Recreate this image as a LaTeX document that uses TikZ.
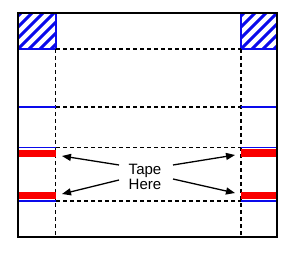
\documentclass[tikz,border=0pt]{standalone}
\usepackage{fontspec}
\setmainfont{Liberation Sans}
\usetikzlibrary{arrows.meta}
\definecolor{hblue}{RGB}{10,10,235}
\definecolor{tred}{RGB}{250,0,0}
\begin{document}
\begin{tikzpicture}[x=1pt,y=-1pt,
  outer/.style={draw=black,line width=2pt},
  guide/.style={draw=black,line width=1.1pt,dash pattern=on 4pt off 3pt},
  bline/.style={draw=hblue,line width=1.4pt},
  tapebar/.style={fill=tred},
  hatch/.style={draw=hblue,line width=3pt},
  arr/.style={draw=black,line width=1.3pt,-{Triangle[length=9pt,width=7pt]}},
  lbl/.style={font=\fontsize{15}{15.7}\selectfont,align=center,inner sep=1pt}]
\useasboundingbox (0,0) rectangle (288,253);
% hatched squares
\begin{scope}
\clip (18,13) rectangle (56,49);
\foreach \k in {-66,-55,...,66} {\draw[hatch] (18+\k,49) -- (18+\k+36,13);}
\end{scope}
\begin{scope}
\clip (241,13) rectangle (277,49);
\foreach \k in {-66,-55,...,66} {\draw[hatch] (241+\k,49) -- (241+\k+36,13);}
\end{scope}
\draw[bline] (18,49) -- (56,49) -- (56,13);
\draw[bline] (277,49) -- (241,49) -- (241,13);
% dashed guides
\draw[guide] (56,49) -- (241,49);
\draw[guide] (56,107) -- (241,107);
\draw[guide] (56,147.5) -- (241,147.5);
\draw[guide] (56,201) -- (241,201);
\draw[guide] (55.5,49) -- (55.5,236);
\draw[guide] (241,49) -- (241,236);
% blue lines
\draw[bline] (18,107) -- (55.5,107);
\draw[bline] (241,107) -- (277,107);
\draw[bline] (18,147.5) -- (55.5,147.5);
\draw[bline] (241,147.5) -- (277,147.5);
\draw[bline] (18,201) -- (55.5,201);
\draw[bline] (241,201) -- (277,201);
% tape bars
\fill[tapebar] (18,150) rectangle (55.5,157);
\fill[tapebar] (241,149.5) rectangle (277,157);
\fill[tapebar] (18,192) rectangle (55.5,199);
\fill[tapebar] (241,192) rectangle (277,199);
% outer frame
\draw[outer] (18,13) rectangle (277,237);
% label and arrows
\node[lbl] (tape) at (145,177) {Tape\\Here};
\coordinate (a1s) at (119,165);
\coordinate (a1e) at (62,156);
\coordinate (a2s) at (119,180);
\coordinate (a2e) at (62,194);
\coordinate (a3s) at (173,165);
\coordinate (a3e) at (235,155);
\coordinate (a4s) at (173,179);
\coordinate (a4e) at (235,193);
\draw[arr] (a1s) -- (a1e);
\draw[arr] (a2s) -- (a2e);
\draw[arr] (a3s) -- (a3e);
\draw[arr] (a4s) -- (a4e);
\end{tikzpicture}
\end{document}
